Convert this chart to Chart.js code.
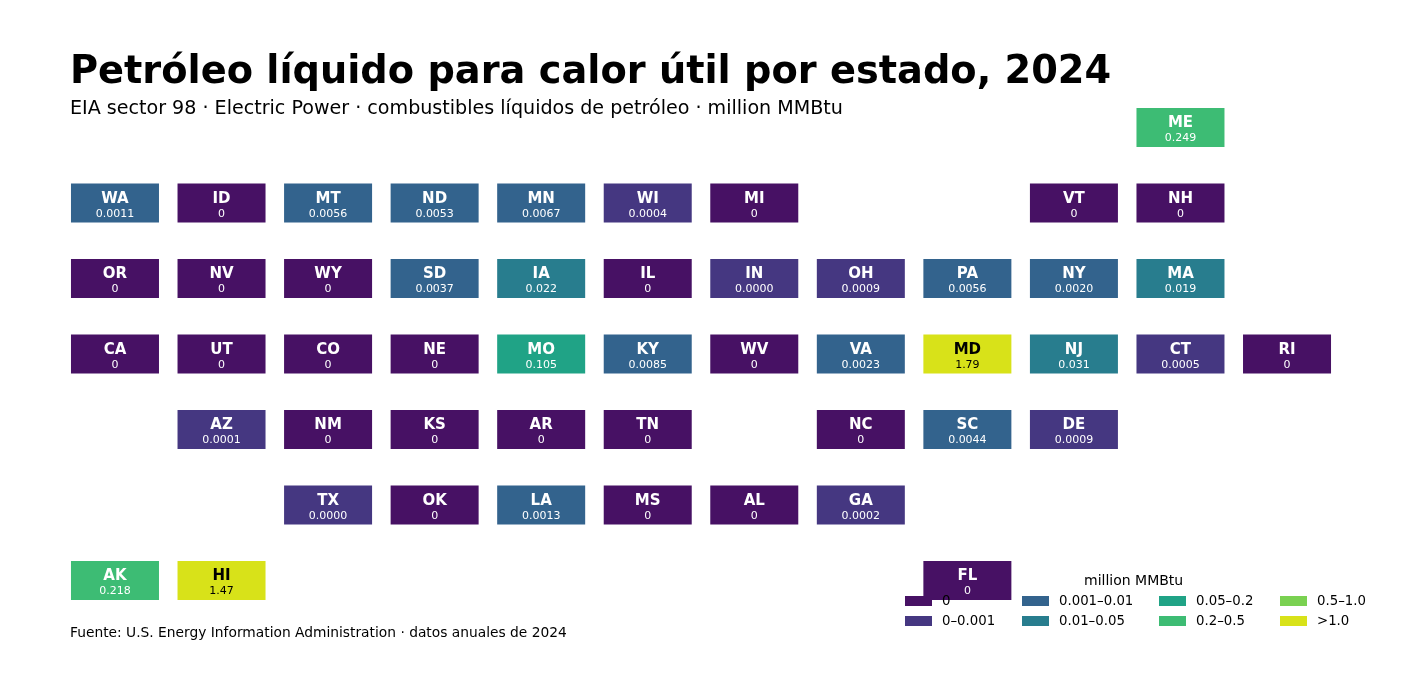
<!DOCTYPE html>
<html><head><meta charset="utf-8">
<script src="https://cdn.jsdelivr.net/npm/chart.js@4"></script>
<style>
body{margin:0;background:#fff;font-family:"DejaVu Sans",sans-serif}
#wrap{position:relative;width:1418px;height:690px}
.t{position:absolute;white-space:nowrap}
.sw{position:absolute;width:27px;height:10px}
</style></head><body>
<div id="wrap">
<canvas id="map" width="1418" height="690"></canvas>
<div class="t" style="left:70px;top:47px;font-size:38.3px;font-weight:bold">Petróleo líquido para calor útil por estado, 2024</div>
<div class="t" style="left:70px;top:96px;font-size:19.1px">EIA sector 98 · Electric Power · combustibles líquidos de petróleo · million MMBtu</div>
<div class="t" style="left:70px;top:624px;font-size:13.8px">Fuente: U.S. Energy Information Administration · datos anuales de 2024</div>
<div id="legend"></div>
</div>
<script>
const states = ["ME","WA","ID","MT","ND","MN","WI","MI","VT","NH","OR","NV","WY","SD","IA","IL","IN","OH","PA","NY","MA","CA","UT","CO","NE","MO","KY","WV","VA","MD","NJ","CT","RI","AZ","NM","KS","AR","TN","NC","SC","DE","TX","OK","LA","MS","AL","GA","AK","HI","FL"]
const cols = [10,0,1,2,3,4,5,6,9,10,0,1,2,3,4,5,6,7,8,9,10,0,1,2,3,4,5,6,7,8,9,10,11,1,2,3,4,5,7,8,9,2,3,4,5,6,7,0,1,8]
const rows = [0,1,1,1,1,1,1,1,1,1,2,2,2,2,2,2,2,2,2,2,2,3,3,3,3,3,3,3,3,3,3,3,3,4,4,4,4,4,4,4,4,5,5,5,5,5,5,6,6,6]
const values = [0.249,0.0011,0,0.0056,0.0053,0.0067,0.0004,0,0,0,0,0,0,0.0037,0.022,0,0.00002,0.0009,0.0056,0.0020,0.019,0,0,0,0,0.105,0.0085,0,0.0023,1.79,0.031,0.0005,0,0.0001,0,0,0,0,0,0.0044,0.0009,0.00002,0,0.0013,0,0,0.0002,0.218,1.47,0]
const valueLabels = ["0.249","0.0011","0","0.0056","0.0053","0.0067","0.0004","0","0","0","0","0","0","0.0037","0.022","0","0.0000","0.0009","0.0056","0.0020","0.019","0","0","0","0","0.105","0.0085","0","0.0023","1.79","0.031","0.0005","0","0.0001","0","0","0","0","0","0.0044","0.0009","0.0000","0","0.0013","0","0","0.0002","0.218","1.47","0"]
const binLabels = ["0","0–0.001","0.001–0.01","0.01–0.05","0.05–0.2","0.2–0.5","0.5–1.0",">1.0"]
const binEdges = [0,0.001,0.01,0.05,0.2,0.5,1.0]
const binColors = ["#471164","#453781","#33638d","#287d8e","#20a386","#3dbc74","#7ad151","#d8e219"]

function binOf(v){
    if (v === 0) return 0
    for (let i = 1; i < binEdges.length; i++) if (v <= binEdges[i]) return i
    return 7
}

const tilePlugin = {
    id: "tiles",
    afterDatasetsDraw(chart) {
        const ctx = chart.ctx, xs = chart.scales.x, ys = chart.scales.y
        const w = 88, h = 39
        states.forEach((s, i) => {
            const cx = xs.getPixelForValue(cols[i]), cy = ys.getPixelForValue(rows[i])
            const b = binOf(values[i])
            ctx.fillStyle = binColors[b]
            ctx.fillRect(cx - w/2, cy - h/2, w, h)
            ctx.fillStyle = b === 7 ? "#000" : "#fff"
            ctx.textAlign = "center"; ctx.textBaseline = "middle"
            ctx.font = "bold 15px 'DejaVu Sans'"
            ctx.fillText(s, cx, cy - 4)
            ctx.font = "11px 'DejaVu Sans'"
            ctx.fillText(valueLabels[i], cx, cy + 11)
        })
    }
}

new Chart(document.getElementById("map"), {
    type: "scatter",
    data: { datasets: [{ data: states.map((s, i) => ({x: cols[i], y: rows[i]})), pointRadius: 0 }] },
    options: {
        responsive: false, animation: false, devicePixelRatio: 1,
        layout: { padding: { left: 61.7, right: 77.7, top: 89.75, bottom: 71.75 } },
        plugins: { legend: { display: false }, tooltip: { enabled: false } },
        scales: {
            x: { type: "linear", min: -0.5, max: 11.5, display: false },
            y: { type: "linear", min: -0.5, max: 6.5, reverse: true, display: false }
        }
    },
    plugins: [tilePlugin]
})

const lg = document.getElementById("legend")
lg.innerHTML = '<div class="t" style="left:1084px;top:572px;font-size:14px">million MMBtu</div>'
const lx = [905,1022,1159,1280]
binLabels.forEach((l, i) => {
    const x = lx[Math.floor(i/2)], y = 596 + (i%2)*20
    lg.innerHTML += `<div class="sw" style="left:${x}px;top:${y}px;background:${binColors[i]}"></div>` +
        `<div class="t" style="left:${x+37}px;top:${y-3}px;font-size:13.3px">${l}</div>`
})
</script>
</body></html>
